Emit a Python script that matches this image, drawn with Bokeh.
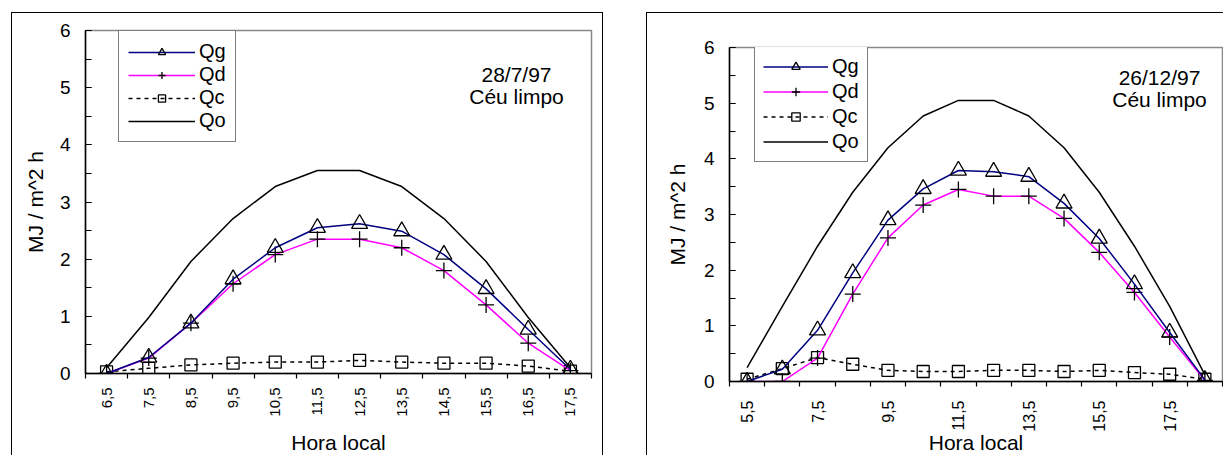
import math
from bokeh.plotting import figure
from bokeh.models import (Range1d, FixedTicker, Legend, LegendItem, Label)
from bokeh.embed import file_html
from bokeh.resources import INLINE

# ---------------- data ----------------
hours_jul = ["6,5", "7,5", "8,5", "9,5", "10,5", "11,5", "12,5", "13,5", "14,5", "15,5", "16,5", "17,5"]
qg_jul = [0.0, 0.28, 0.88, 1.65, 2.2, 2.55, 2.62, 2.49, 2.08, 1.48, 0.77, 0.07]
qd_jul = [0.0, 0.27, 0.88, 1.57, 2.08, 2.35, 2.35, 2.2, 1.8, 1.2, 0.53, 0.05]
qc_jul = [0.03, 0.09, 0.15, 0.18, 0.2, 0.2, 0.23, 0.2, 0.18, 0.18, 0.13, 0.04]
qo_jul = [0.1, 0.98, 1.96, 2.71, 3.27, 3.55, 3.55, 3.27, 2.71, 1.96, 0.98, 0.1]

hours_dec = ["5,5", "6,5", "7,5", "8,5", "9,5", "10,5", "11,5", "12,5", "13,5", "14,5", "15,5", "16,5", "17,5", "18,5"]
qg_dec = [0.0, 0.22, 0.92, 1.95, 2.9, 3.46, 3.79, 3.77, 3.68, 3.2, 2.57, 1.75, 0.88, 0.03]
qd_dec = [0.0, 0.0, 0.42, 1.57, 2.58, 3.17, 3.45, 3.33, 3.33, 2.93, 2.32, 1.6, 0.8, 0.02]
qc_dec = [0.04, 0.23, 0.43, 0.31, 0.2, 0.18, 0.18, 0.2, 0.2, 0.18, 0.2, 0.16, 0.13, 0.04]
qo_dec = [0.25, 1.35, 2.43, 3.4, 4.2, 4.77, 5.05, 5.05, 4.77, 4.2, 3.4, 2.43, 1.35, 0.12]

series_names = ["Qg", "Qd", "Qc", "Qo"]
notes_jul = ["28/7/97", "Céu limpo"]
notes_dec = ["26/12/97", "Céu limpo"]
y_title = "MJ / m^2 h"
x_title = "Hora local"
y_ticks = [0, 1, 2, 3, 4, 5, 6]

FONT = "Liberation Sans"


def build(cats, qg, qd, qc, qo, notes, ox, oy, W, H, frame, step, xlab_size,
          xlab_standoff, xtitle_standoff, ytitle_standoff, right_border, leg, note_px):
    """All geometry in page pixels; (ox, oy) = page position of the canvas."""
    n = len(cats)
    xs = list(range(n))
    ymax = y_ticks[-1]
    fl, fr, ft, fb = frame  # page coords of plot area
    fl, fr, ft, fb = fl - ox, fr - ox, ft - oy, fb - oy

    def xd(px):
        return (px - ox - fl) / (fr - fl) * n - 0.5

    def yd(py):
        return (fb - (py - oy)) / (fb - ft) * ymax

    styles = {"position": "absolute", "left": f"{ox - 1}px", "top": f"{oy - 1}px",
              "border-left": "1px solid black", "border-top": "1px solid black"}
    if right_border:
        styles["border-right"] = "1px solid black"

    p = figure(width=W, height=H, output_backend="svg", toolbar_location=None, tools="",
               x_range=Range1d(-0.5, n - 0.5), y_range=Range1d(0, ymax),
               min_border_left=fl, min_border_right=W - fr,
               min_border_top=ft, min_border_bottom=H - fb, styles=styles)
    p.xgrid.visible = False
    p.ygrid.visible = False
    p.outline_line_color = "#888888"
    p.outline_line_width = 1.5
    p.background_fill_color = "white"
    p.border_fill_color = "white"

    xa = p.xaxis[0]
    xa.ticker = FixedTicker(ticks=list(range(0, n, step)),
                            minor_ticks=[i - 0.5 for i in range(n + 1)])
    xa.major_label_overrides = {i: cats[i] for i in range(0, n, step)}
    xa.major_tick_line_color = None
    xa.major_tick_out = 0
    xa.major_tick_in = 0
    xa.minor_tick_line_color = "black"
    xa.minor_tick_out = 5
    xa.minor_tick_in = 0
    xa.minor_tick_line_width = 1.2
    xa.major_label_orientation = math.pi / 2
    xa.major_label_standoff = xlab_standoff
    xa.major_label_text_font = FONT
    xa.major_label_text_font_size = xlab_size
    xa.major_label_text_color = "black"
    xa.axis_line_color = "black"
    xa.axis_line_width = 1.5
    xa.axis_label = x_title
    xa.axis_label_text_font = FONT
    xa.axis_label_text_font_size = "21px"
    xa.axis_label_text_font_style = "normal"
    xa.axis_label_text_color = "black"
    xa.axis_label_standoff = xtitle_standoff

    ya = p.yaxis[0]
    ya.ticker = FixedTicker(ticks=y_ticks,
                            minor_ticks=[v / 2 for v in range(0, 2 * ymax + 1)])
    ya.major_tick_in = 6
    ya.major_tick_out = 0
    ya.minor_tick_in = 6
    ya.minor_tick_out = 0
    ya.major_tick_line_color = "black"
    ya.minor_tick_line_color = "black"
    ya.major_tick_line_width = 1.2
    ya.minor_tick_line_width = 1.2
    ya.major_label_standoff = 15
    ya.major_label_text_font = FONT
    ya.major_label_text_font_size = "19px"
    ya.major_label_text_color = "black"
    ya.axis_line_color = "black"
    ya.axis_line_width = 1.5
    ya.axis_label = y_title
    ya.axis_label_text_font = FONT
    ya.axis_label_text_font_size = "21px"
    ya.axis_label_text_font_style = "normal"
    ya.axis_label_text_color = "black"
    ya.axis_label_standoff = ytitle_standoff

    r_qo = p.line(xs, qo, line_color="black", line_width=1.5)
    r_qc = p.line(xs, qc, line_color="black", line_width=1.5, line_dash="4 4")
    m_qc = p.scatter(xs, qc, marker="square", size=12, fill_color=None,
                     line_color="black", line_width=1.3)
    r_qd = p.line(xs, qd, line_color="#FF00FF", line_width=1.5)
    m_qd = p.scatter(xs, qd, marker="cross", size=16, line_color="black", line_width=1.3)
    r_qg = p.line(xs, qg, line_color="#000080", line_width=1.5)
    m_qg = p.scatter(xs, qg, marker="triangle", size=16, fill_color=None,
                     line_color="black", line_width=1.3)

    lleft, ltop, lbottom, gw, gh, sp, pad = leg
    legend = Legend(items=[
        LegendItem(label=series_names[0], renderers=[r_qg, m_qg]),
        LegendItem(label=series_names[1], renderers=[r_qd, m_qd]),
        LegendItem(label=series_names[2], renderers=[r_qc, m_qc]),
        LegendItem(label=series_names[3], renderers=[r_qo]),
    ], location=(lleft - ox - fl, fb - (lbottom - oy)), margin=0, padding=pad, spacing=sp,
        glyph_width=gw, glyph_height=gh, label_height=gh, label_standoff=4,
        label_text_font=FONT, label_text_font_size="20px", label_text_color="black",
        border_line_color="black", border_line_width=1.2,
        background_fill_color="white", background_fill_alpha=1.0)
    p.add_layout(legend)

    (nx, ny1, ny2) = note_px
    for txt, py in zip(notes, (ny1, ny2)):
        p.add_layout(Label(x=xd(nx), y=yd(py), text=txt, text_font=FONT,
                           text_font_size="21px", text_align="center",
                           text_baseline="middle", text_color="black"))
    return p


p1 = build(hours_jul, qg_jul, qd_jul, qc_jul, qo_jul, notes_jul,
           ox=12, oy=13, W=592, H=443, frame=(85, 591, 30, 374), step=1,
           xlab_size="15px", xlab_standoff=9, xtitle_standoff=11, ytitle_standoff=10,
           right_border=True, leg=(118, 53, 143, 67, 18, 0, 9),
           note_px=(516, 74.5, 96.5))

p2 = build(hours_dec, qg_dec, qd_dec, qc_dec, qo_dec, notes_dec,
           ox=647, oy=13, W=577, H=443, frame=(729, 1222, 47, 381), step=2,
           xlab_size="16px", xlab_standoff=14, xtitle_standoff=-4, ytitle_standoff=12,
           right_border=False, leg=(754, 57, 162, 65, 21, 2, 8),
           note_px=(1159, 77, 99))

open("out.html", "w").write(file_html([p1, p2], INLINE))
